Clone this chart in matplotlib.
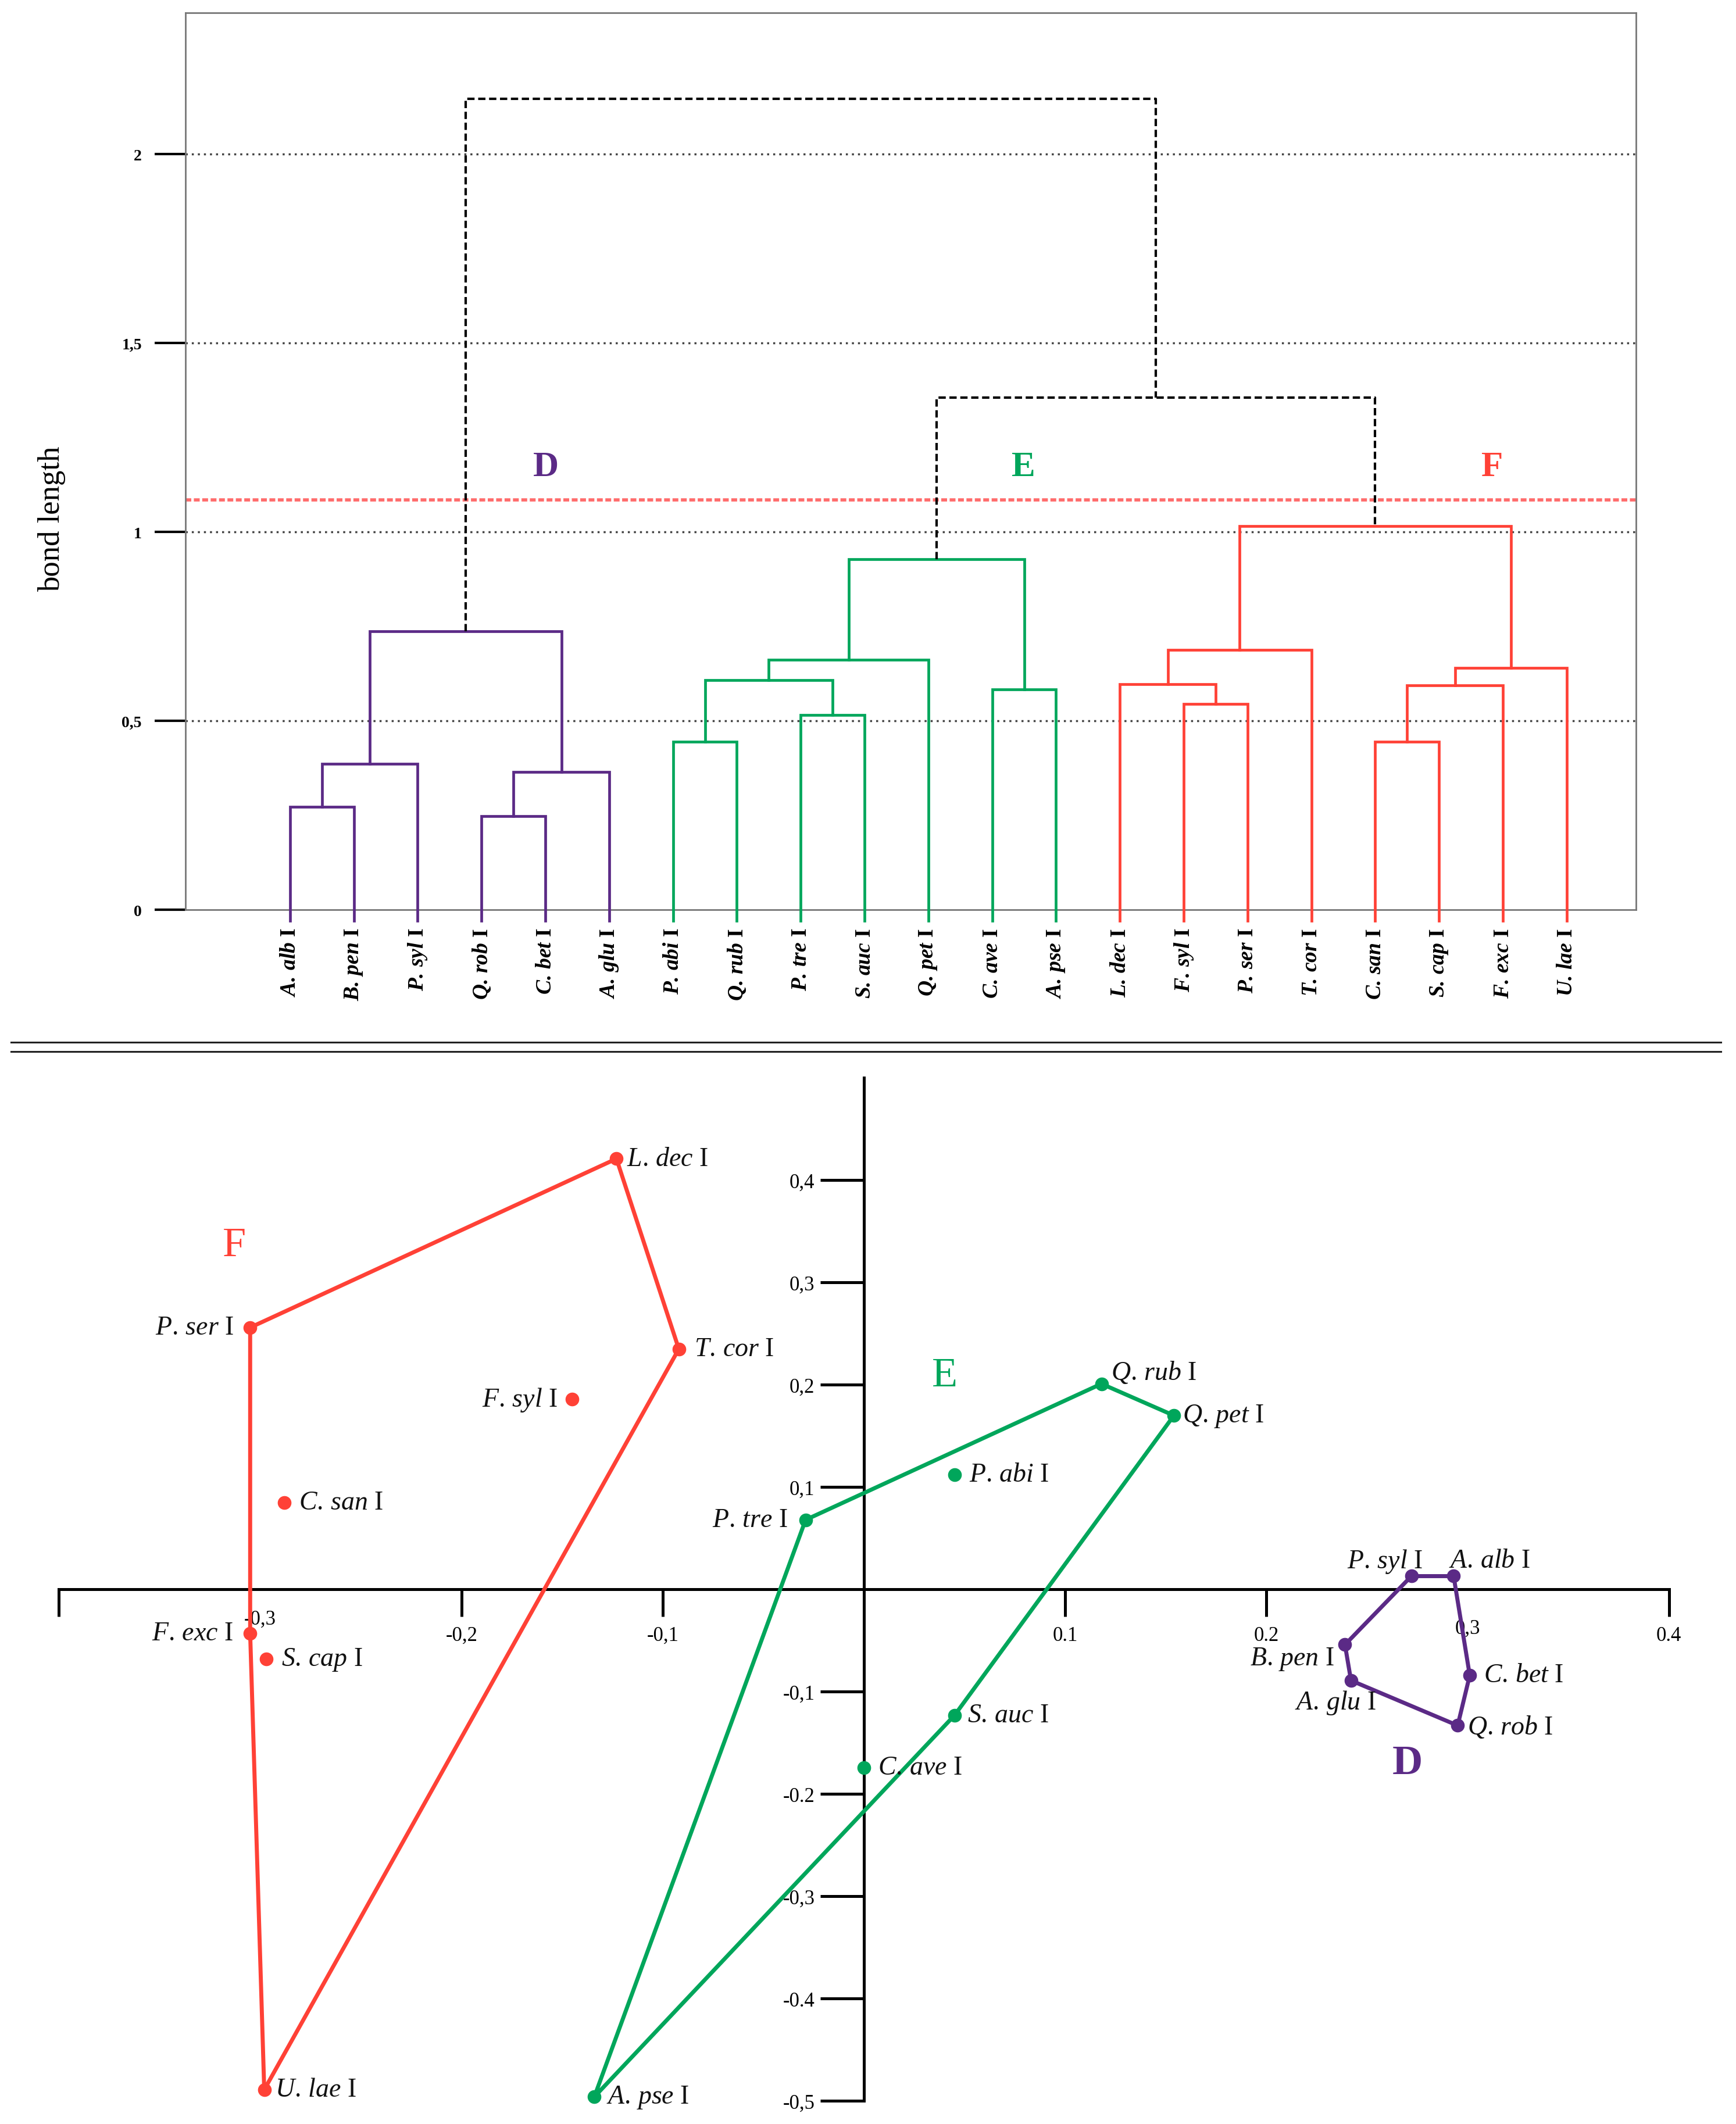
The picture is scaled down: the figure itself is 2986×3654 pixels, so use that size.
import numpy as np
import matplotlib
matplotlib.use('Agg')
import matplotlib.pyplot as plt
from matplotlib.lines import Line2D

plt.rcParams['font.family'] = ['Liberation Serif', 'DejaVu Serif']
plt.rcParams['mathtext.fontset'] = 'custom'
plt.rcParams['mathtext.rm'] = 'Liberation Serif'
plt.rcParams['mathtext.it'] = 'Liberation Serif:italic'
plt.rcParams['mathtext.bf'] = 'Liberation Serif:bold'
plt.rcParams['mathtext.bfit'] = 'Liberation Serif:bold:italic'

PURPLE = '#5B2A86'
GREEN = '#00A65B'
RED = '#FF4136'
group_color = {'D': PURPLE, 'E': GREEN, 'F': RED, '-': 'black'}

# ---- dendrogram data ----
leaf_names = ['A. alb', 'B. pen', 'P. syl', 'Q. rob', 'C. bet', 'A. glu',
              'P. abi', 'Q. rub', 'P. tre', 'S. auc', 'Q. pet', 'C. ave', 'A. pse',
              'L. dec', 'F. syl', 'P. ser', 'T. cor', 'C. san', 'S. cap', 'F. exc', 'U. lae']
# merges, scipy-linkage style (new node ids start at len(leaf_names))
merge_a = [0, 21, 3, 23, 22, 6, 8, 26, 28, 11, 29, 14, 13, 33, 17, 35, 36, 34, 31, 25]
merge_b = [1, 2, 4, 5, 24, 7, 9, 27, 10, 12, 30, 15, 32, 16, 18, 19, 20, 37, 38, 39]
merge_h = [0.272, 0.386, 0.247, 0.365, 0.737,
           0.444, 0.515, 0.608, 0.662, 0.583, 0.927,
           0.544, 0.597, 0.687, 0.444, 0.594, 0.640, 1.016,
           1.356, 2.147]
merge_grp = ['D', 'D', 'D', 'D', 'D',
             'E', 'E', 'E', 'E', 'E', 'E',
             'F', 'F', 'F', 'F', 'F', 'F', 'F',
             '-', '-']
cut_height = 1.084
y_ticks_top = [0, 0.5, 1, 1.5, 2]
y_ticklabels_top = ['0', '0,5', '1', '1,5', '2']

# ---- ordination data ----
pcoa_names = ['A. alb', 'B. pen', 'P. syl', 'Q. rob', 'C. bet', 'A. glu',
              'P. abi', 'Q. rub', 'P. tre', 'S. auc', 'Q. pet', 'C. ave', 'A. pse',
              'L. dec', 'F. syl', 'P. ser', 'T. cor', 'C. san', 'S. cap', 'F. exc', 'U. lae']
pcoa_x = [0.293, 0.239, 0.272, 0.295, 0.301, 0.242,
          0.045, 0.118, -0.029, 0.045, 0.154, 0.000, -0.134,
          -0.123, -0.145, -0.305, -0.092, -0.288, -0.297, -0.305, -0.298]
pcoa_y = [0.013, -0.054, 0.013, -0.133, -0.084, -0.089,
          0.112, 0.201, 0.068, -0.123, 0.170, -0.174, -0.496,
          0.421, 0.186, 0.256, 0.235, 0.085, -0.068, -0.043, -0.489]
pcoa_grp = ['D'] * 6 + ['E'] * 7 + ['F'] * 8
hulls = {
    'D': ['P. syl', 'A. alb', 'C. bet', 'Q. rob', 'A. glu', 'B. pen'],
    'E': ['P. tre', 'Q. rub', 'Q. pet', 'S. auc', 'A. pse'],
    'F': ['P. ser', 'L. dec', 'T. cor', 'U. lae', 'F. exc'],
}
x_ticks_bot = [-0.4, -0.3, -0.2, -0.1, 0.1, 0.2, 0.3, 0.4]
x_ticklabels_bot = ['', '-0,3', '-0,2', '-0,1', '0.1', '0.2', '0,3', '0.4']
y_ticks_bot = [-0.5, -0.4, -0.3, -0.2, -0.1, 0.1, 0.2, 0.3, 0.4]
y_ticklabels_bot = ['-0,5', '-0.4', '-0,3', '-0.2', '-0,1', '0,1', '0,2', '0,3', '0,4']

# label placement (offset points, horizontal alignment)
label_pos = {
    'A. alb': (44, 19, 'center'), 'B. pen': (-13, -17, 'right'), 'P. syl': (-33, 19, 'center'),
    'Q. rob': (12, -2, 'left'), 'C. bet': (17, 0, 'left'), 'A. glu': (-19, -27, 'center'),
    'P. abi': (18, 0, 'left'), 'Q. rub': (12, 14, 'left'), 'P. tre': (-22, 0, 'right'),
    'S. auc': (16, 0, 'left'), 'Q. pet': (11, 0, 'left'), 'C. ave': (17, 0, 'left'),
    'A. pse': (15, 0, 'left'), 'L. dec': (13, 0, 'left'), 'F. syl': (-18, 0, 'right'),
    'P. ser': (-20, 0, 'right'), 'T. cor': (19, 0, 'left'), 'C. san': (18, 0, 'left'),
    'S. cap': (19, 0, 'left'), 'F. exc': (-21, 0, 'right'), 'U. lae': (13, 0, 'left'),
}


def italic_label(name, cmd):
    return r'$\%s{%s}$ I' % (cmd, name.replace(' ', r'\,'))


W, H = 2986, 3655
fig = plt.figure(figsize=(W / 100, H / 100), dpi=100)

# ================= top: dendrogram =================
ax1 = fig.add_axes([319 / W, 1 - 1566 / H, (2814 - 319) / W, (1566 - 23) / H])
n = len(leaf_names)
node_x = list(np.arange(n, dtype=float))
node_h = [0.0] * n
leaf_tail = 0.03
for a, b, h, g in zip(merge_a, merge_b, merge_h, merge_grp):
    xa, xb = node_x[a], node_x[b]
    ha = -leaf_tail if a < n else node_h[a]
    hb = -leaf_tail if b < n else node_h[b]
    if g == '-':
        ax1.plot([xa, xa, xb, xb], [ha, h, h, hb], color='black', lw=3,
                 ls=(0, (3, 1.5)), clip_on=False, zorder=3)
    else:
        ax1.plot([xa, xa, xb, xb], [ha, h, h, hb], color=group_color[g], lw=3.4,
                 clip_on=False, zorder=3, solid_joinstyle='miter')
    node_x.append((xa + xb) / 2)
    node_h.append(h)

for yv in y_ticks_top[1:]:
    ax1.axhline(yv, color='#444444', lw=2.5, ls=(0, (1, 2)), zorder=1)
ax1.axhline(cut_height, color='#FF6B6B', lw=4, ls=(0, (1.8, 0.8)), zorder=2)

ax1.set_xlim(-1.638, 21.085)
ax1.set_ylim(0, 2.374)
ax1.set_yticks(y_ticks_top)
ax1.set_yticklabels(y_ticklabels_top, fontsize=20, fontweight='bold')
ax1.tick_params(axis='y', direction='out', length=38, width=3, pad=16, color='black')
ax1.set_xticks(np.arange(n))
ax1.set_xticklabels([italic_label(s, 'mathbfit') for s in leaf_names],
                    rotation=90, fontsize=27, fontweight='bold')
ax1.tick_params(axis='x', length=0, pad=22)
for sp in ax1.spines.values():
    sp.set_color('#777777')
    sp.set_linewidth(2)

top_letters = {'D': (4.01, 1.173), 'E': (11.49, 1.173), 'F': (18.83, 1.173)}
for k, (lx, ly) in top_letters.items():
    ax1.text(lx, ly, k, color=group_color[k], fontsize=44, fontweight='bold',
             ha='center', va='center')

fig.text(89 / W, 1 - 893 / H, 'bond length', rotation=90, ha='center', va='center', fontsize=38)

# separator
for yy in (1794, 1810):
    fig.add_artist(Line2D([19 / W, 2960 / W], [1 - yy / H, 1 - yy / H],
                          transform=fig.transFigure, color='#222222', lw=2.2))

# ================= bottom: ordination =================
ax2 = fig.add_axes([0, 0, 1, 1825 / H])
ax2.patch.set_alpha(0)
idx = {nm: i for i, nm in enumerate(pcoa_names)}
for g, order in hulls.items():
    hx = [pcoa_x[idx[nm]] for nm in order] + [pcoa_x[idx[order[0]]]]
    hy = [pcoa_y[idx[nm]] for nm in order] + [pcoa_y[idx[order[0]]]]
    ax2.plot(hx, hy, color=group_color[g], lw=5, zorder=3, solid_joinstyle='round')
for nm, xv, yv, g in zip(pcoa_names, pcoa_x, pcoa_y, pcoa_grp):
    ax2.plot(xv, yv, 'o', ms=16, color=group_color[g], zorder=4)
    dx, dy, ha = label_pos[nm]
    ax2.annotate(italic_label(nm, 'mathit'), (xv, yv),
                 xytext=(dx, dy), textcoords='offset points', ha=ha, va='center',
                 fontsize=33, color='#111111', zorder=5)

bot_letters = {'F': (-0.313, 0.336), 'E': (0.040, 0.209), 'D': (0.270, -0.170)}
for k, (lx, ly) in bot_letters.items():
    ax2.text(lx, ly, k, color=group_color[k], fontsize=52,
             fontweight='bold' if k == 'D' else 'normal', ha='center', va='center')

ax2.set_xlim(-0.4293, 0.4333)
ax2.set_ylim(-0.5225, 0.5144)
ax2.spines['left'].set_position(('data', 0))
ax2.spines['bottom'].set_position(('data', 0))
ax2.spines['left'].set_bounds(-0.5, 0.5)
ax2.spines['bottom'].set_bounds(-0.4, 0.4)
ax2.spines['right'].set_visible(False)
ax2.spines['top'].set_visible(False)
for s in ('left', 'bottom'):
    ax2.spines[s].set_linewidth(3.6)
    ax2.spines[s].set_zorder(2)
ax2.set_xticks(x_ticks_bot)
ax2.set_xticklabels(x_ticklabels_bot, fontsize=25)
ax2.set_yticks(y_ticks_bot)
ax2.set_yticklabels(y_ticklabels_bot, fontsize=25)
ax2.tick_params(axis='x', direction='out', length=34, width=3.6, pad=11)
ax2.tick_params(axis='y', direction='out', length=54, width=3.6, pad=7)
for t, v in zip(ax2.xaxis.get_major_ticks(), x_ticks_bot):
    if abs(v + 0.3) < 1e-9:
        t.tick1line.set_visible(False)
        t.set_pad(-9)
    elif abs(v - 0.3) < 1e-9:
        t.tick1line.set_visible(False)
        t.set_pad(2)

fig.savefig('out.png', dpi=100, facecolor='white')
